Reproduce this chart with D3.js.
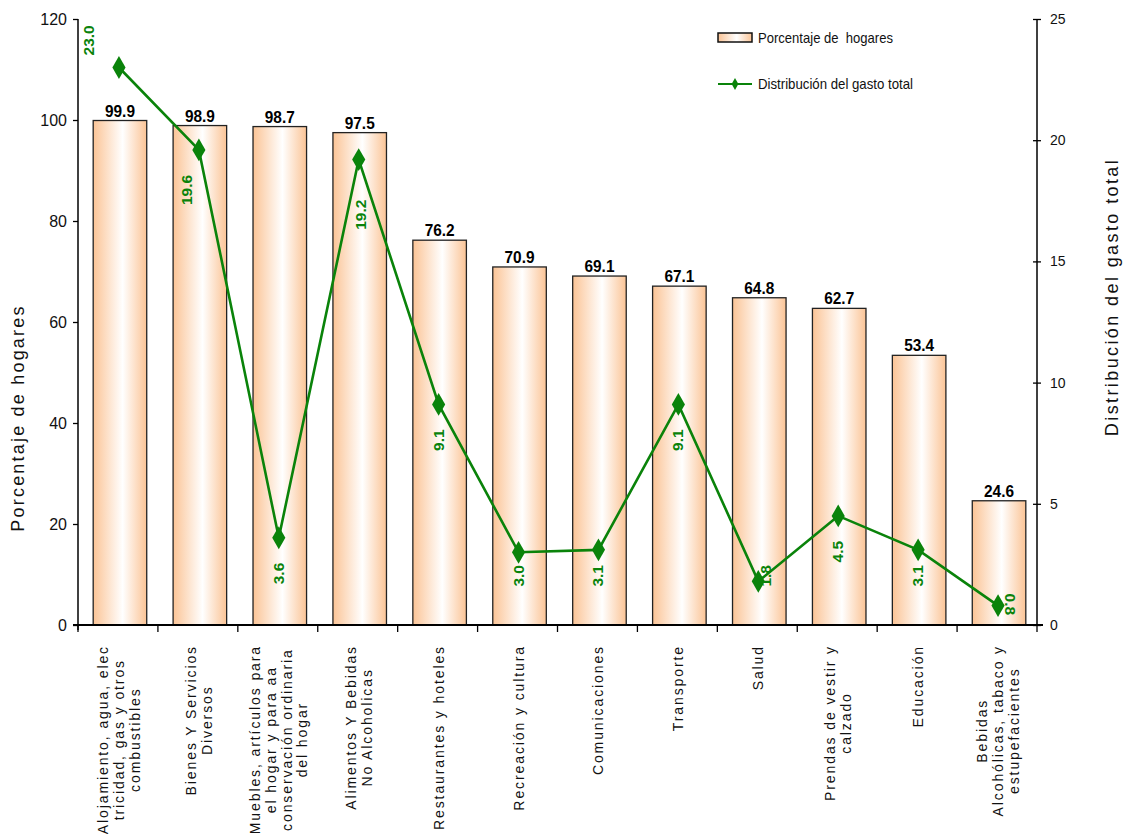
<!DOCTYPE html>
<html>
<head>
<meta charset="utf-8">
<script src="https://cdn.jsdelivr.net/npm/d3@7"></script>
<style>
  body { margin: 0; background: #fff; }
  svg { display: block; font-family: "Liberation Sans", Arial, sans-serif; }
</style>
</head>
<body>
<svg id="chart" width="1126" height="834"></svg>
<script>
// categories, one entry per line of the rotated label
const categories = [
  ['Alojamiento, agua, elec', 'tricidad, gas y otros', 'combustibles'],
  ['Bienes Y Servicios', 'Diversos'],
  ['Muebles, artículos para', 'el hogar y para aa', 'conservación ordinaria', 'del hogar'],
  ['Alimentos Y Bebidas', 'No Alcoholicas'],
  ['Restaurantes y hoteles'],
  ['Recreación y cultura'],
  ['Comunicaciones'],
  ['Transporte'],
  ['Salud'],
  ['Prendas de vestir y', 'calzado'],
  ['Educación'],
  ['Bebidas', 'Alcohólicas, tabaco y', 'estupefacientes']
];
const pctHogares = [99.9, 98.9, 98.7, 97.5, 76.2, 70.9, 69.1, 67.1, 64.8, 62.7, 53.4, 24.6];
const gastoTotal = [23.0, 19.6, 3.6, 19.2, 9.1, 3.0, 3.1, 9.1, 1.8, 4.5, 3.1, 0.8];
const leftTicks = [0, 20, 40, 60, 80, 100, 120];
const rightTicks = [0, 5, 10, 15, 20, 25];

const color = { green: '#0a830a', orange: '#fbc496', black: '#000' };
const margin = { top: 19, right: 89, bottom: 209, left: 78 };
const W = 1126, H = 834;
const width = W - margin.left - margin.right;
const height = H - margin.top - margin.bottom;

const svg = d3.select('#chart');

const defs = svg.append('defs');
const grad = defs.append('linearGradient').attr('id', 'barGrad').attr('x1', 0).attr('x2', 1).attr('y1', 0).attr('y2', 0);
grad.append('stop').attr('offset', '0%').attr('stop-color', color.orange);
grad.append('stop').attr('offset', '55%').attr('stop-color', '#ffffff');
grad.append('stop').attr('offset', '100%').attr('stop-color', color.orange);

const g = svg.append('g').attr('transform', `translate(${margin.left},${margin.top})`);

const x = d3.scaleBand().domain(d3.range(categories.length)).range([2, width + 2]).paddingInner(0.33).paddingOuter(0.165);
const xBand = d3.scaleBand().domain(d3.range(categories.length)).range([0, width]);
const cx = (i) => xBand(i) + xBand.bandwidth() / 2 + 1;
const yL = d3.scaleLinear().domain([0, 120]).range([height, 0]);
const yR = d3.scaleLinear().domain([0, 25]).range([height, 0]);

// bars
g.selectAll('rect.bar')
  .data(pctHogares)
  .join('rect')
  .attr('class', 'bar')
  .attr('x', (d, i) => x(i))
  .attr('y', (d) => yL(d))
  .attr('width', x.bandwidth())
  .attr('height', (d) => height - yL(d))
  .attr('fill', 'url(#barGrad)')
  .attr('stroke', '#222')
  .attr('stroke-width', 1.3);

// bar value labels (condensed bold)
g.selectAll('text.barval')
  .data(pctHogares)
  .join('text')
  .attr('class', 'barval')
  .attr('x', (d, i) => x(i) + x.bandwidth() / 2)
  .attr('y', (d) => yL(d) - 4)
  .attr('text-anchor', 'middle')
  .attr('font-size', 17)
  .attr('font-weight', 700)
  .attr('fill', color.black)
  .attr('textLength', 30)
  .attr('lengthAdjust', 'spacingAndGlyphs')
  .text((d) => d.toFixed(1));

// left axis
const axL = g.append('g').call(d3.axisLeft(yL).tickValues(leftTicks).tickSize(5).tickPadding(6));
axL.select('.domain').attr('stroke-width', 1.5).attr('d', `M0,${height + 5}V0`);
axL.selectAll('.tick line').attr('stroke-width', 1.3);
axL.selectAll('text').attr('font-size', 16).attr('font-family', 'Liberation Sans, Arial, sans-serif').attr('fill', '#111');

// right axis
const axR = g.append('g').attr('transform', `translate(${width},0)`)
  .call(d3.axisRight(yR).tickValues(rightTicks).tickSize(4).tickPadding(9));
axR.select('.domain').attr('stroke-width', 1.5).attr('d', `M0,${height}V0`);
axR.selectAll('.tick line').attr('x1', -4).attr('stroke-width', 1.3);
axR.selectAll('text').attr('font-size', 14).attr('font-family', 'Liberation Sans, Arial, sans-serif').attr('fill', '#111');

// bottom axis with ticks between categories
const xAxisG = g.append('g').attr('transform', `translate(0,${height})`);
xAxisG.append('line').attr('x1', -5).attr('x2', width + 6).attr('stroke', color.black).attr('stroke-width', 2);
xAxisG.selectAll('line.xtick')
  .data(d3.range(categories.length + 1))
  .join('line')
  .attr('class', 'xtick')
  .attr('x1', (d) => d * xBand.bandwidth())
  .attr('x2', (d) => d * xBand.bandwidth())
  .attr('y1', 0)
  .attr('y2', 7)
  .attr('stroke', color.black)
  .attr('stroke-width', 1.3);

// category labels, rotated, lines centred on the longest one
xAxisG.selectAll('g.cat')
  .data(categories)
  .join('g')
  .attr('class', 'cat')
  .each(function (lines, i) {
    const cg = d3.select(this);
    const lh = 15.7;
    const t = cg.selectAll('text').data(lines).join('text')
      .attr('font-size', 14)
      .attr('letter-spacing', 1.9)
      .attr('fill', '#111')
      .attr('text-anchor', 'middle')
      .text((d) => d);
    const maxLen = d3.max(t.nodes(), (n) => n.getComputedTextLength());
    const top = 20;
    t.attr('transform', (d, j) => {
      const lx = cx(i) + (j - (lines.length - 1) / 2) * lh + 5;
      return `translate(${lx},${top + maxLen / 2}) rotate(-90)`;
    });
  });

// line series
const line = d3.line()
  .x((d, i) => cx(i))
  .y((d) => yR(d));
g.append('path')
  .datum(gastoTotal)
  .attr('fill', 'none')
  .attr('stroke', color.green)
  .attr('stroke-width', 2.6)
  .attr('d', line);

const diamond = d3.symbol().type(d3.symbolDiamond).size(150);
g.selectAll('path.marker')
  .data(gastoTotal)
  .join('path')
  .attr('class', 'marker')
  .attr('d', diamond)
  .attr('transform', (d, i) => `translate(${cx(i)},${yR(d)})`)
  .attr('fill', color.green);

// line value labels, rotated; below the point, kept above the axis,
// nudged sideways when a neighbouring segment runs through them
const maxGasto = d3.max(gastoTotal);
const lowest = height - 60;
g.selectAll('text.lineval')
  .data(gastoTotal)
  .join('text')
  .attr('class', 'lineval')
  .attr('font-size', 15.5)
  .attr('font-weight', 700)
  .attr('fill', color.green)
  .attr('text-anchor', (d) => (d === maxGasto ? 'start' : 'end'))
  .each(function (d, i) {
    const px = cx(i);
    const py = yR(d);
    const el = d3.select(this);
    if (d === maxGasto) {
      el.attr('transform', `translate(${px - 25},${py - 12}) rotate(-90)`);
      return;
    }
    if (py > height - 25) {
      el.attr('text-anchor', 'start').attr('transform', `translate(${px + 7},${py - 12}) rotate(90)`);
      return;
    }
    let top = Math.min(py + 25, lowest);
    let shift = 0;
    if (i < gastoTotal.length - 1) {
      const nx = cx(i + 1), ny = yR(gastoTotal[i + 1]);
      if (ny > py) {
        const lineX = px + ((top + 15 - py) / (ny - py)) * (nx - px);
        if (lineX - px < 14) shift = -12;
      }
    }
    if (i > 0) {
      const bx = cx(i - 1), by = yR(gastoTotal[i - 1]);
      if (by > py) {
        const lineX = px - ((top + 15 - py) / (by - py)) * (px - bx);
        if (px - lineX < 14) { shift = 2; top = py + 40; }
      }
    }
    if (top < py + 12) shift = 8;
    el.attr('transform', `translate(${px + 5 + shift},${top}) rotate(-90)`);
  })
  .text((d) => d.toFixed(1));

// axis titles
svg.append('text')
  .attr('transform', `translate(24,418) rotate(-90)`)
  .attr('text-anchor', 'middle')
  .attr('font-size', 18)
  .attr('letter-spacing', 2.2)
  .attr('fill', '#111')
  .text('Porcentaje de hogares');
svg.append('text')
  .attr('transform', `translate(1118,297) rotate(-90)`)
  .attr('text-anchor', 'middle')
  .attr('font-size', 18)
  .attr('letter-spacing', 2.4)
  .attr('fill', '#111')
  .text('Distribución del gasto total');

// legend
const leg = svg.append('g').attr('transform', 'translate(718,0)');
leg.append('rect').attr('x', 0).attr('y', 33).attr('width', 34).attr('height', 9)
  .attr('fill', 'url(#barGrad)').attr('stroke', '#111').attr('stroke-width', 1.5);
leg.append('text').attr('x', 40).attr('y', 43).attr('font-size', 15).attr('fill', '#111')
  .attr('xml:space', 'preserve')
  .attr('textLength', 135).attr('lengthAdjust', 'spacingAndGlyphs')
  .text('Porcentaje de  hogares');
leg.append('line').attr('x1', 0).attr('x2', 34).attr('y1', 84).attr('y2', 84).attr('stroke', color.green).attr('stroke-width', 2);
leg.append('path').attr('d', d3.symbol().type(d3.symbolDiamond).size(40)).attr('transform', 'translate(17,84)').attr('fill', color.green);
leg.append('text').attr('x', 40).attr('y', 89).attr('font-size', 15).attr('fill', '#111')
  .attr('textLength', 155).attr('lengthAdjust', 'spacingAndGlyphs')
  .text('Distribución del gasto total');
</script>
</body>
</html>
